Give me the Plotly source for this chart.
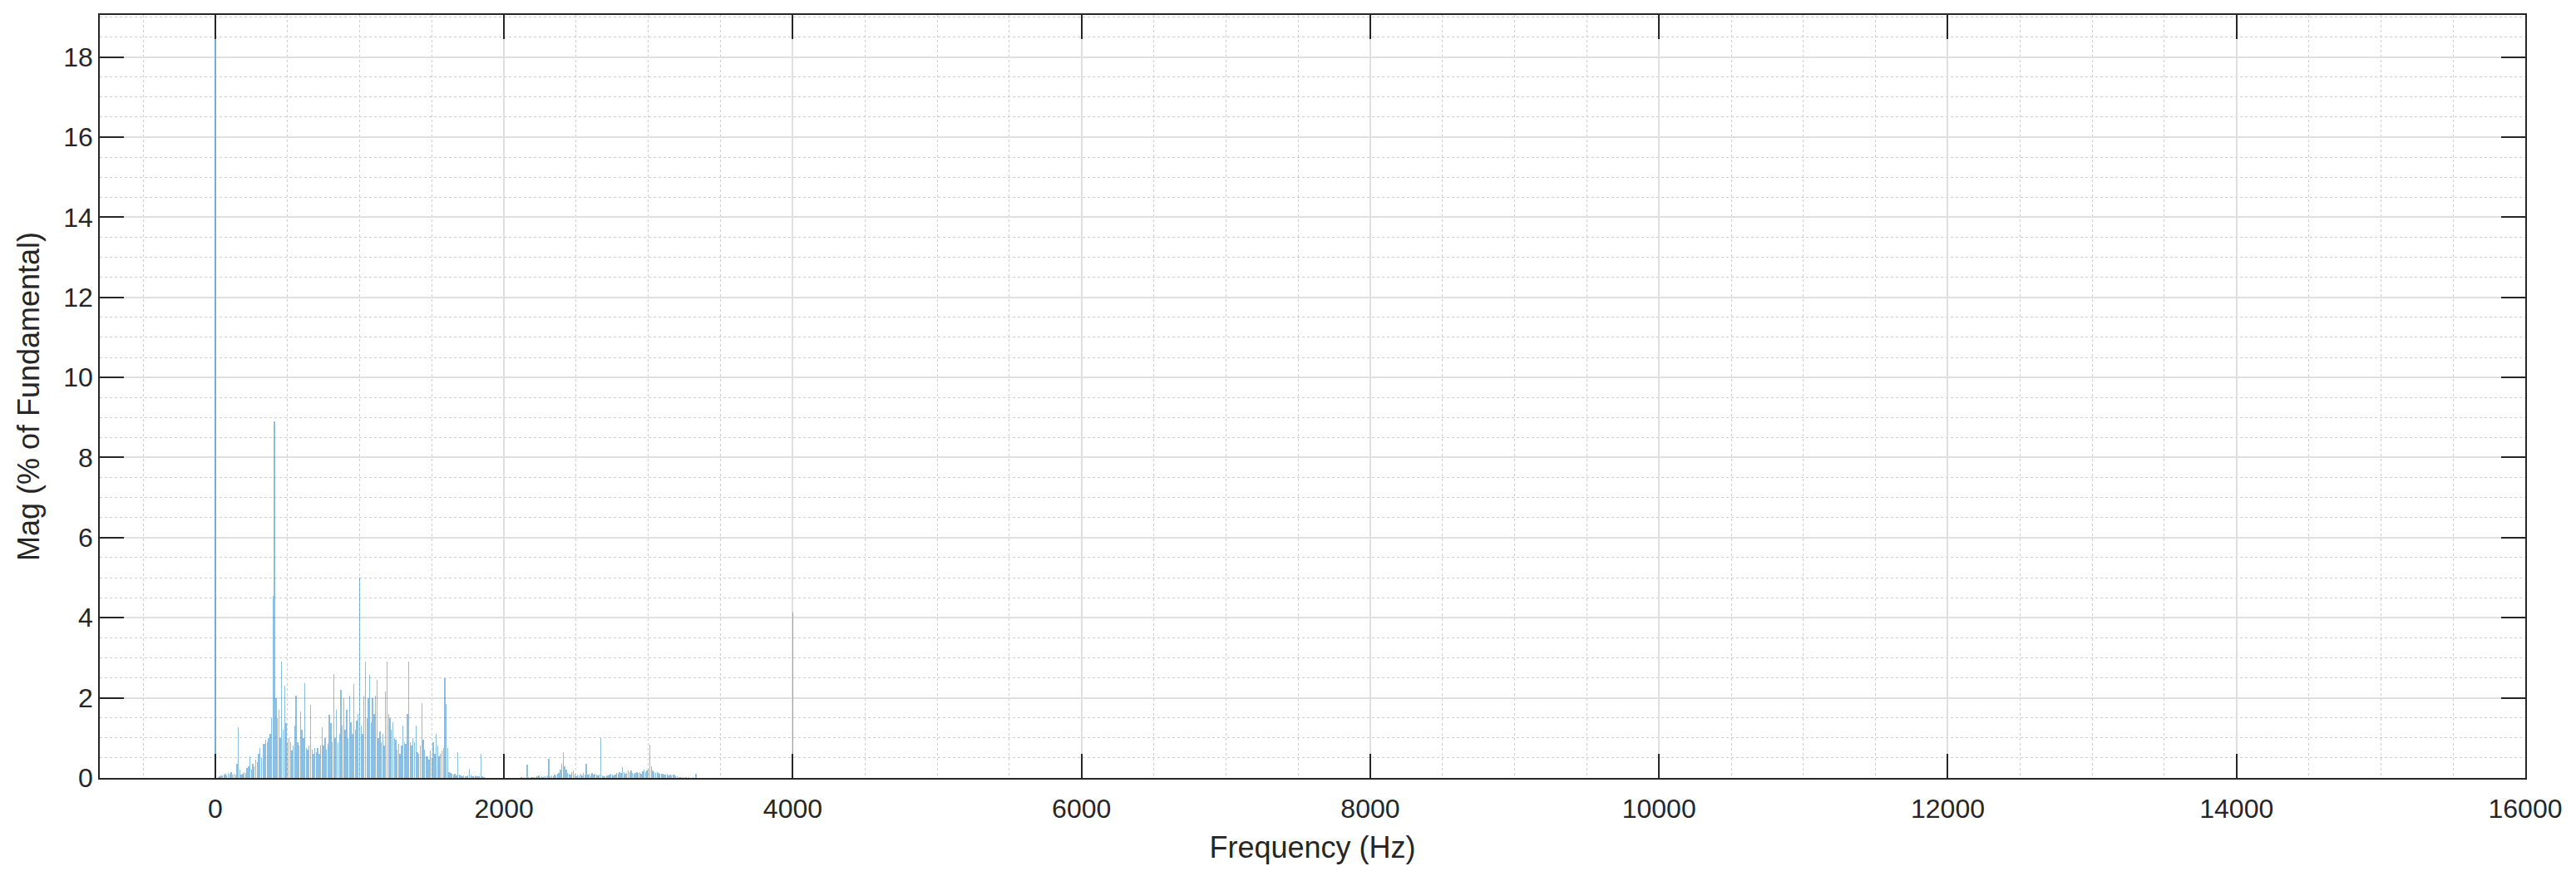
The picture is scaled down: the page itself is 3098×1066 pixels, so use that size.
import plotly.graph_objects as go

# Frequency bins (Hz) of the spectrum: 10 Hz bins 0..3400 plus the 4 kHz line
freq_hz = list(range(0, 3410, 10)) + [4000]

# Magnitude (% of fundamental), one row per 100 Hz
mag_pct = [
    19.0, 0.00, 0.02, 0.04, 0.06, 0.05, 0.08, 0.10, 0.07, 0.12,   # 0-90
    0.10, 0.14, 0.09, 0.11, 0.08, 0.35, 1.27, 0.20, 0.08, 0.10,   # 100-190
    0.15, 0.12, 0.25, 0.30, 0.54, 0.20, 0.35, 0.30, 0.45, 0.40,   # 200-290
    0.60, 0.75, 0.50, 0.85, 0.85, 0.95, 0.90, 1.00, 1.10, 1.50,   # 300-390
    4.55, 8.90, 2.00, 1.50, 1.70, 1.00, 2.90, 1.20, 2.30, 1.37,   # 400-490
    0.90, 1.00, 0.90, 0.68, 0.80, 1.30, 2.06, 0.90, 0.80, 1.65,   # 500-590
    1.20, 1.00, 2.37, 0.75, 0.70, 0.80, 1.82, 0.70, 0.60, 0.75,   # 600-690
    0.65, 0.75, 0.60, 0.80, 1.27, 0.80, 1.00, 0.70, 0.85, 1.58,   # 700-790
    1.37, 0.90, 2.60, 1.00, 1.70, 0.90, 1.10, 2.20, 1.30, 2.00,   # 800-890
    1.20, 1.70, 1.00, 2.06, 1.40, 1.10, 2.34, 1.20, 1.44, 1.60,   # 900-990
    5.00, 1.30, 1.10, 2.06, 2.90, 1.50, 2.00, 2.58, 1.40, 2.00,   # 1000-1090
    1.60, 2.06, 2.44, 1.00, 1.16, 0.90, 1.10, 0.80, 2.16, 2.90,   # 1100-1190
    1.60, 1.50, 1.20, 1.40, 1.00, 0.95, 0.70, 0.85, 0.60, 0.80,   # 1200-1290
    1.30, 0.90, 0.85, 1.60, 2.90, 0.90, 0.80, 1.00, 0.90, 1.30,   # 1300-1390
    0.65, 0.60, 0.80, 1.87, 0.95, 0.70, 0.55, 0.54, 0.45, 0.68,   # 1400-1490
    0.50, 0.90, 0.60, 1.10, 0.80, 0.55, 0.60, 0.68, 0.75, 2.48,   # 1500-1590
    1.85, 0.75, 0.15, 0.12, 0.10, 0.08, 0.10, 0.07, 0.64, 0.08,   # 1600-1690
    0.06, 0.05, 0.07, 0.05, 0.04, 0.06, 0.23, 0.08, 0.05, 0.04,   # 1700-1790
    0.06, 0.05, 0.04, 0.05, 0.60, 0.05, 0.02, 0.01, 0.01, 0.00,   # 1800-1890
    0.01, 0.00, 0.01, 0.00, 0.00, 0.01, 0.00, 0.00, 0.01, 0.00,   # 1900-1990
    0.00, 0.01, 0.00, 0.00, 0.01, 0.00, 0.00, 0.00, 0.01, 0.00,   # 2000-2090
    0.00, 0.01, 0.02, 0.01, 0.02, 0.01, 0.33, 0.02, 0.01, 0.02,   # 2100-2190
    0.03, 0.02, 0.03, 0.04, 0.06, 0.03, 0.04, 0.03, 0.05, 0.04,   # 2200-2290
    0.06, 0.47, 0.05, 0.06, 0.05, 0.08, 0.06, 0.10, 0.12, 0.20,   # 2300-2390
    0.35, 0.64, 0.30, 0.20, 0.12, 0.10, 0.08, 0.15, 0.19, 0.10,   # 2400-2490
    0.05, 0.08, 0.06, 0.10, 0.07, 0.12, 0.08, 0.35, 0.09, 0.10,   # 2500-2590
    0.07, 0.12, 0.08, 0.10, 0.09, 0.06, 0.08, 0.99, 0.07, 0.05,   # 2600-2690
    0.05, 0.07, 0.06, 0.08, 0.10, 0.08, 0.07, 0.09, 0.12, 0.10,   # 2700-2790
    0.14, 0.12, 0.26, 0.15, 0.10, 0.12, 0.18, 0.14, 0.18, 0.12,   # 2800-2890
    0.10, 0.13, 0.15, 0.12, 0.14, 0.10, 0.16, 0.20, 0.15, 0.18,   # 2900-2990
    0.22, 0.82, 0.30, 0.18, 0.15, 0.12, 0.14, 0.12, 0.10, 0.11,   # 3000-3090
    0.10, 0.09, 0.08, 0.10, 0.07, 0.08, 0.06, 0.08, 0.08, 0.05,   # 3100-3190
    0.04, 0.03, 0.03, 0.02, 0.02, 0.01, 0.02, 0.01, 0.02, 0.01,   # 3200-3290
    0.01, 0.02, 0.01, 0.10, 0.01, 0.01, 0.00, 0.01, 0.00, 0.01,   # 3300-3390
    0.00,                                                         # 3400
    4.13,                                                         # 4000
]

x_tick_vals = [0, 2000, 4000, 6000, 8000, 10000, 12000, 14000, 16000]
x_tick_text = ["0", "2000", "4000", "6000", "8000", "10000", "12000", "14000", "16000"]
y_tick_vals = [0, 2, 4, 6, 8, 10, 12, 14, 16, 18]
y_tick_text = ["0", "2", "4", "6", "8", "10", "12", "14", "16", "18"]

AX = "rgb(38,38,38)"
FONT = "Liberation Sans, Arial, Helvetica, sans-serif"

fig = go.Figure()
fig.add_trace(go.Bar(
    x=freq_hz, y=mag_pct, width=8,
    marker=dict(color="rgba(0,114,189,0.45)", line=dict(width=0)),
    showlegend=False,
))

common = dict(
    showline=True, linecolor=AX, linewidth=1.5, mirror="ticks",
    ticks="inside", ticklen=29, tickwidth=1.5, tickcolor=AX,
    showgrid=True, gridcolor="rgb(223,223,223)", gridwidth=1.5,
    zeroline=False, automargin=False,
    tickfont=dict(family=FONT, size=32, color=AX),
    title_font=dict(family=FONT, size=36, color=AX),
)

fig.update_xaxes(
    range=[-800, 16000], tickvals=x_tick_vals, ticktext=x_tick_text,
    ticklabelstandoff=8,
    title_text="Frequency (Hz)", title_standoff=17,
    minor=dict(dtick=500, tick0=0, showgrid=True, gridcolor="rgb(205,205,205)",
               griddash="dot", gridwidth=1, ticks=""),
    **common,
)
fig.update_yaxes(
    range=[0, 19.05], tickvals=y_tick_vals, ticktext=y_tick_text,
    title_text="Mag (% of Fundamental)", title_standoff=18,
    minor=dict(dtick=0.5, tick0=0, showgrid=True, gridcolor="rgb(205,205,205)",
               griddash="dot", gridwidth=1, ticks=""),
    **common,
)

fig.update_layout(
    width=3098, height=1066,
    margin=dict(l=112, r=69, t=10, b=138),
    plot_bgcolor="white", paper_bgcolor="white",
    bargap=0,
    font=dict(family=FONT, color=AX),
)

fig.write_html("out.html")
